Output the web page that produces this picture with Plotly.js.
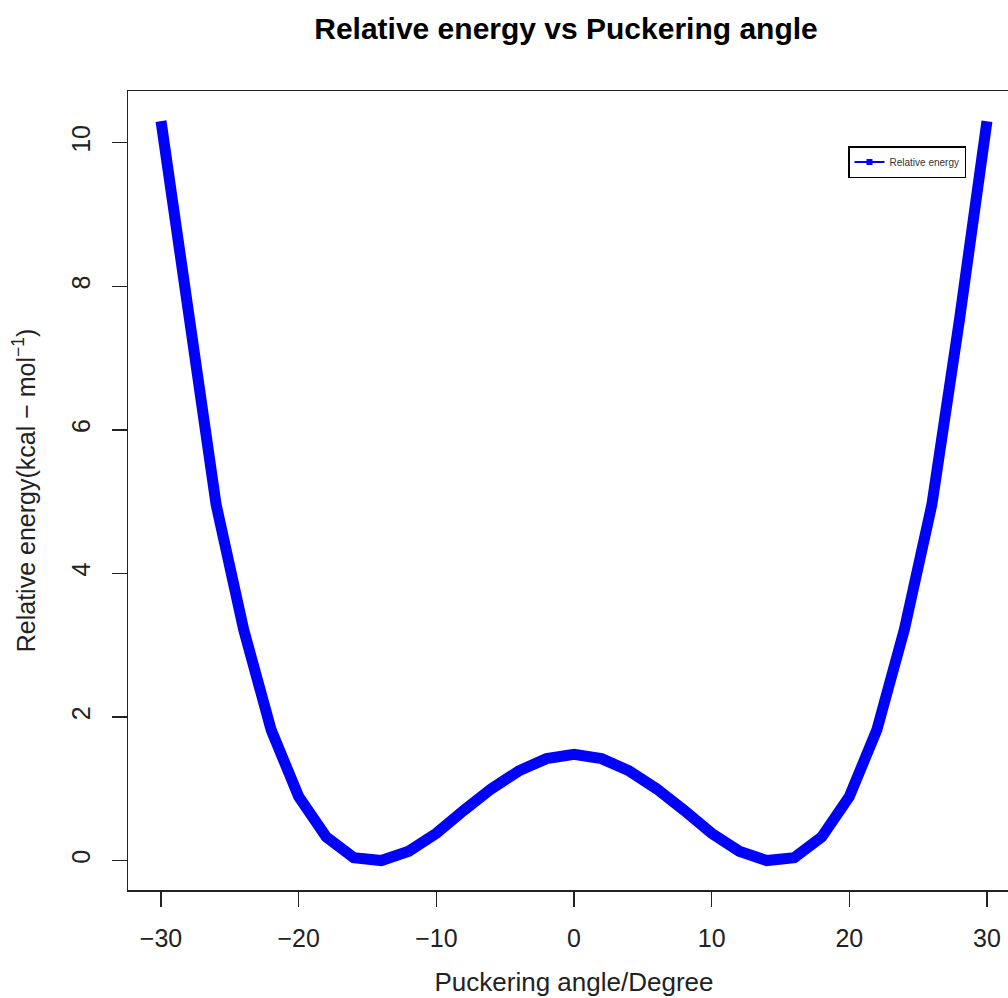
<!DOCTYPE html>
<html>
<head>
<meta charset="utf-8">
<script src="https://cdn.plot.ly/plotly-3.0.1.min.js"></script>
<style>
html,body{margin:0;padding:0;overflow:hidden;background:#fff;}
#chart{width:1030px;height:998px;}
</style>
</head>
<body>
<div id="chart"></div>
<script>
var angles = [-30,-28,-26,-24,-22,-20,-18,-16,-14,-12,-10,-8,-6,-4,-2,0,2,4,6,8,10,12,14,16,18,20,22,24,26,28,30];
var energy = [10.3,7.53,4.96,3.22,1.82,0.89,0.33,0.04,0.0,0.13,0.38,0.70,1.0,1.25,1.42,1.48,1.42,1.25,1.0,0.70,0.38,0.13,0.0,0.04,0.33,0.89,1.82,3.22,4.96,7.53,10.3];
var seriesName = 'Relative energy';
var xTicks = [-30,-20,-10,0,10,20,30];
var xTickText = ['\u221230','\u221220','\u221210','0','10','20','30'];
var yTicks = [0,2,4,6,8,10];

var trace = {
  x: angles, y: energy, type: 'scatter', mode: 'lines',
  name: seriesName, showlegend: false,
  line: {color: '#0000FF', width: 11}
};
// legend entry (thin line with square marker, as in the reference key)
var legendTrace = {
  x: [null], y: [null], type: 'scatter', mode: 'lines+markers',
  name: seriesName, showlegend: true,
  line: {color: '#0000FF', width: 2},
  marker: {color: '#0000FF', size: 6, symbol: 'square'}
};

var W = 1030, ml = 128, mr = 10;
var layout = {
  width: W, height: 998,
  margin: {l: ml, r: mr, t: 91, b: 108},
  paper_bgcolor: '#fff', plot_bgcolor: '#fff',
  font: {family: 'Liberation Sans, Arial, sans-serif', color: '#000'},
  title: {text: '<b>Relative energy vs Puckering angle</b>', font: {size: 30, color: '#000'},
          x: 566 / W, xref: 'container', xanchor: 'center', y: 1 - 28 / 998, yanchor: 'middle'},
  showlegend: true,
  legend: {x: (848 - ml) / (W - ml - mr), y: (890 - 146) / 799, xanchor: 'left', yanchor: 'top',
           bordercolor: '#000', borderwidth: 1.5, bgcolor: '#fff', font: {size: 10, color: '#333'},
           itemwidth: 30, tracegroupgap: 0},
  xaxis: {
    range: [-32.4, 32.4], tickvals: xTicks, ticktext: xTickText,
    ticks: 'outside', ticklen: 15, tickwidth: 1.5, tickcolor: '#222',
    showline: true, mirror: true, linecolor: '#222', linewidth: 1.5,
    showgrid: false, zeroline: false,
    tickfont: {size: 25, color: '#222'}, ticklabelstandoff: 10,
    title: {text: 'Puckering angle/Degree', font: {size: 26, color: '#222'}, standoff: 22}
  },
  yaxis: {
    range: [-0.41, 10.72], tickvals: yTicks, tickangle: -90,
    ticks: 'outside', ticklen: 15, tickwidth: 1.5, tickcolor: '#222',
    showline: true, mirror: true, linecolor: '#222', linewidth: 1.5,
    showgrid: false, zeroline: false,
    tickfont: {size: 25, color: '#222'}, ticklabelstandoff: 12,
    title: {text: 'Relative energy(kcal \u2212 mol<sup>\u22121</sup>)', font: {size: 25, color: '#222'}, standoff: 24}
  }
};
Plotly.newPlot('chart', [trace, legendTrace], layout, {displayModeBar: false, staticPlot: true});
</script>
</body>
</html>
